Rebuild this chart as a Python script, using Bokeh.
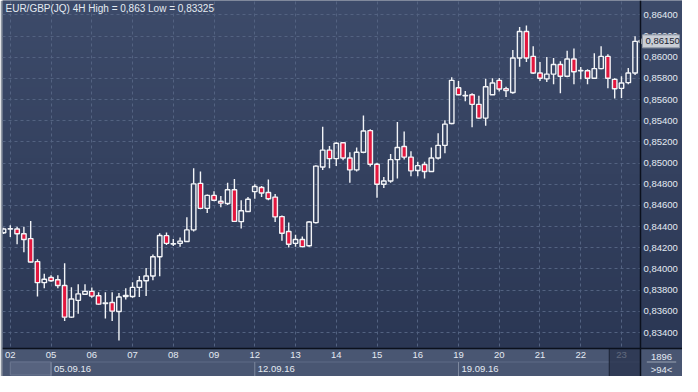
import numpy as np
from bokeh.plotting import figure
from bokeh.models import (FixedTicker, CustomJSTickFormatter, Label, BoxAnnotation,
                          Range1d, ColumnDataSource, Span)
from bokeh.core.properties import value
from bokeh.embed import file_html
from bokeh.resources import INLINE

# ---------------- data ----------------
title_text = "EUR/GBP(JQ) 4H High = 0,863 Low = 0,83325"

opens = [0.84342, 0.84378, 0.84378, 0.84333, 0.84287, 0.84070, 0.83871, 0.83919, 0.83898, 0.83844,
         0.83545, 0.83704, 0.83762, 0.83789, 0.83747, 0.83674, 0.83683, 0.83599, 0.83740, 0.83740,
         0.83826, 0.83889, 0.83934, 0.84115, 0.84315, 0.84235, 0.84242, 0.84260, 0.84369, 0.84809,
         0.84573, 0.84695, 0.84640, 0.84619, 0.84749, 0.84447, 0.84543, 0.84731, 0.84770, 0.84722,
         0.84679, 0.84495, 0.84354, 0.84242, 0.84278, 0.84220, 0.84438, 0.84963, 0.85123, 0.85042,
         0.85193, 0.85048, 0.84936, 0.85102, 0.85307, 0.84990, 0.84800, 0.84831, 0.85033, 0.85157,
         0.85057, 0.84930, 0.84987, 0.84921, 0.85048, 0.85168, 0.85374, 0.85712, 0.85637, 0.85646,
         0.85555, 0.85425, 0.85646, 0.85782, 0.85703, 0.85667, 0.85993, 0.86243, 0.86008, 0.85851,
         0.85796, 0.85841, 0.85932, 0.85821, 0.85984, 0.85872, 0.85872, 0.85802, 0.85893, 0.86008,
         0.85791, 0.85706, 0.85760, 0.85851]
highs = [0.84390, 0.84414, 0.84399, 0.84399, 0.84453, 0.84091, 0.83955, 0.83940, 0.83940, 0.84055,
         0.83828, 0.83855, 0.83855, 0.83826, 0.83780, 0.83780, 0.83780, 0.83774, 0.83819, 0.83874,
         0.83934, 0.84009, 0.84136, 0.84338, 0.84344, 0.84284, 0.84297, 0.84489, 0.84951, 0.84921,
         0.84704, 0.84734, 0.84689, 0.84815, 0.84851, 0.84649, 0.84679, 0.84800, 0.84785, 0.84845,
         0.84709, 0.84505, 0.84438, 0.84324, 0.84308, 0.84453, 0.84981, 0.85343, 0.85162, 0.85198,
         0.85198, 0.85102, 0.85148, 0.85449, 0.85320, 0.85003, 0.84870, 0.85087, 0.85389, 0.85298,
         0.85111, 0.85012, 0.85012, 0.85148, 0.85283, 0.85404, 0.85811, 0.85775, 0.85682, 0.85660,
         0.85637, 0.85796, 0.85802, 0.85805, 0.85721, 0.86068, 0.86285, 0.86300, 0.86104, 0.85956,
         0.86002, 0.85993, 0.85963, 0.86062, 0.86083, 0.85908, 0.85887, 0.86038, 0.86104, 0.86029,
         0.85802, 0.85821, 0.85899, 0.86198]
lows = [0.84330, 0.84302, 0.84233, 0.84157, 0.84061, 0.83740, 0.83819, 0.83880, 0.83819, 0.83509,
        0.83538, 0.83577, 0.83759, 0.83729, 0.83659, 0.83532, 0.83509, 0.83325, 0.83713, 0.83729,
        0.83735, 0.83744, 0.83894, 0.83931, 0.84227, 0.84218, 0.84211, 0.84255, 0.84354, 0.84564,
        0.84528, 0.84640, 0.84582, 0.84604, 0.84447, 0.84383, 0.84540, 0.84664, 0.84679, 0.84649,
        0.84444, 0.84266, 0.84202, 0.84211, 0.84206, 0.84211, 0.84429, 0.84936, 0.84951, 0.84972,
        0.85026, 0.84815, 0.84921, 0.85093, 0.84967, 0.84673, 0.84764, 0.84815, 0.84854, 0.85035,
        0.84876, 0.84876, 0.84854, 0.84915, 0.85035, 0.85093, 0.85368, 0.85640, 0.85585, 0.85338,
        0.85419, 0.85352, 0.85643, 0.85676, 0.85624, 0.85655, 0.85911, 0.85954, 0.85841, 0.85775,
        0.85766, 0.85745, 0.85660, 0.85811, 0.85745, 0.85791, 0.85745, 0.85800, 0.85887, 0.85706,
        0.85610, 0.85615, 0.85745, 0.85832]
closes = [0.84378, 0.84380, 0.84333, 0.84278, 0.84066, 0.83871, 0.83903, 0.83889, 0.83844, 0.83545,
          0.83717, 0.83765, 0.83789, 0.83744, 0.83668, 0.83680, 0.83602, 0.83735, 0.83749, 0.83826,
          0.83889, 0.83934, 0.84115, 0.84317, 0.84242, 0.84240, 0.84263, 0.84369, 0.84804, 0.84573,
          0.84695, 0.84649, 0.84622, 0.84749, 0.84450, 0.84550, 0.84659, 0.84779, 0.84718, 0.84664,
          0.84492, 0.84338, 0.84233, 0.84278, 0.84211, 0.84444, 0.84972, 0.85123, 0.85042, 0.85187,
          0.85048, 0.84936, 0.85102, 0.85304, 0.84990, 0.84800, 0.84831, 0.85033, 0.85148, 0.85057,
          0.84927, 0.84976, 0.84921, 0.85048, 0.85168, 0.85368, 0.85782, 0.85646, 0.85640, 0.85555,
          0.85425, 0.85721, 0.85757, 0.85700, 0.85685, 0.85993, 0.86243, 0.85993, 0.85851, 0.85802,
          0.85841, 0.85932, 0.85821, 0.85984, 0.85863, 0.85875, 0.85802, 0.85893, 0.86008, 0.85802,
          0.85703, 0.85757, 0.85851, 0.86150]

day_labels = ["02", "05", "06", "07", "08", "09", "12", "13", "14", "15", "16",
              "19", "20", "21", "22", "23"]
day_first_bar = [1, 7, 13, 19, 25, 31, 37, 43, 49, 55, 61, 67, 73, 79, 85, 91]
week_labels = ["05.09.16", "12.09.16", "19.09.16"]
week_first_bar = [7, 37, 67]
price_ticks = [0.834, 0.836, 0.838, 0.840, 0.842, 0.844, 0.846, 0.848, 0.850,
               0.852, 0.854, 0.856, 0.858, 0.860, 0.862, 0.864]
bars_total = "1896"
bars_visible = ">94<"

# ---------------- layout / styling ----------------
FONT = "Liberation Sans"
NAVY = "#33405e"
SLATE = "#495672"
TXT = "#e4eaf2"
RED = "#e3173e"
WHITE = "#f2f4f7"
BLACK = "#0b101c"

W, H = 682, 376
FRAME_W, FRAME_H = W - 2, H          # 2px left border
CAND_W, CAND_H = 638, 348             # candle area inside the frame (px)
x_lo, x_hi = -0.15, 93.8              # visible bar span of the candle area
y_lo, y_hi = 0.83249, 0.86536         # visible price span of the candle area
x_max = x_hi + (x_hi - x_lo) * (FRAME_W - CAND_W) / CAND_W   # right price panel
y_min = y_lo - (y_hi - y_lo) * (FRAME_H - CAND_H) / CAND_H   # bottom date bar
px = (x_hi - x_lo) / CAND_W           # bars per pixel
py = (y_hi - y_lo) / CAND_H           # price per pixel
row_div = y_min + 14.5 * py           # divider between day row and week row

p = figure(width=W, height=H, output_backend="svg", toolbar_location=None,
           x_range=Range1d(x_lo, x_max), y_range=Range1d(y_min, y_hi),
           y_axis_location="right",
           min_border_left=2, min_border_right=0, min_border_top=0, min_border_bottom=0)
p.title.visible = False
p.outline_line_color = None
p.background_fill_color = NAVY
p.border_fill_color = "#8d95a1"


def gradient(ny=128, bot=(0x2b, 0x37, 0x54), top=(0x3d, 0x4b, 0x6a)):
    t = np.linspace(0, 1, ny)[:, None]
    cols = (np.array(bot) * (1 - t) + np.array(top) * t).astype(np.uint8)
    img = np.zeros((ny, 1), dtype=np.uint32)
    v = img.view(np.uint8).reshape((ny, 1, 4))
    v[:, 0, :3] = cols
    v[:, 0, 3] = 255
    return img


# gradient behind the candles (below the grid)
bg = p.image_rgba(image=[gradient()], x=x_lo, y=y_lo, dw=x_hi - x_lo, dh=y_hi - y_lo)
bg.level = "image"

# grid
p.xgrid.ticker = FixedTicker(ticks=day_first_bar)
p.ygrid.ticker = FixedTicker(ticks=price_ticks)
for g in (p.xgrid[0], p.ygrid[0]):
    g.grid_line_color = "#536281"
    g.grid_line_dash = "3 3"
    g.grid_line_width = 1

# right price panel and bottom date bar (cover the grid there)
p.image_rgba(image=[gradient()], x=x_hi, y=y_lo, dw=x_max - x_hi, dh=y_hi - y_lo)
p.quad(left=[x_lo], right=[x_max], bottom=[y_min], top=[y_lo], fill_color=SLATE, line_color=None)
# partial first week box, week separators, row divider
p.quad(left=[day_first_bar[0]], right=[week_first_bar[0]], bottom=[y_min + 1.5 * py], top=[row_div],
       fill_color="#57637f", line_color="#6d7893", line_width=1)
p.segment(x0=[day_first_bar[0]], x1=[x_hi], y0=[row_div], y1=[row_div],
          line_color="#5f6b86", line_width=1)
p.segment(x0=week_first_bar, x1=week_first_bar, y0=[y_min] * len(week_first_bar),
          y1=[row_div] * len(week_first_bar), line_color="#7d889e", line_width=1)
p.text(x=week_first_bar, y=[(y_min + row_div) / 2] * len(week_first_bar), text=week_labels,
       x_offset=3, text_baseline="middle", text_align="left", text_color=TXT,
       text_font=value(FONT), text_font_size="9.5px")

# candles
o = np.array(opens); h = np.array(highs); l = np.array(lows); c = np.array(closes)
idx = np.arange(len(o))
bull = c >= o
src = ColumnDataSource(dict(
    x=idx, h=h, l=l, btop=np.maximum(o, c), bbot=np.minimum(o, c),
    fill=[NAVY if b else RED for b in bull],
    alpha=[0.0 if b else 1.0 for b in bull],
))
p.segment(x0="x", y0="btop", x1="x", y1="h", source=src, line_color=WHITE, line_width=1.4)
p.segment(x0="x", y0="l", x1="x", y1="bbot", source=src, line_color=WHITE, line_width=1.4)
p.vbar(x="x", width=0.66, top="btop", bottom="bbot", source=src,
       fill_color="fill", fill_alpha="alpha", line_color=WHITE, line_width=1.4)

# right price axis (labels drawn inward, over the price panel)
ya = p.yaxis[0]
ya.ticker = FixedTicker(ticks=price_ticks)
ya.formatter = CustomJSTickFormatter(code="return tick.toFixed(5).replace('.', ',');")
ya.major_tick_out = 0
ya.major_tick_in = 0
ya.minor_tick_out = 0
ya.minor_tick_in = 0
ya.axis_line_color = None
ya.major_label_standoff = -39
ya.major_label_text_color = TXT
ya.major_label_text_font = FONT
ya.major_label_text_font_size = "9.5px"

# bottom day axis (labels drawn inward, over the date bar)
xa = p.xaxis[0]
xa.ticker = FixedTicker(ticks=day_first_bar)
xa.major_label_overrides = {b: lab for b, lab in zip(day_first_bar, day_labels)}
xa.major_tick_out = 0
xa.major_tick_in = 0
xa.minor_tick_out = 0
xa.minor_tick_in = 0
xa.axis_line_color = None
xa.major_label_standoff = -25
xa.major_label_text_color = TXT
xa.major_label_text_font = FONT
xa.major_label_text_font_size = "9.5px"

# current (last) day highlight in the date bar
p.add_layout(BoxAnnotation(left=day_first_bar[-1] - 1.8, right=x_hi, bottom=y_min, top=y_lo,
                           fill_color="#27314a", fill_alpha=0.7, line_color="#1b2335",
                           line_alpha=1.0, line_width=1))

# frame separators
p.add_layout(Span(location=x_hi, dimension="height", line_color=BLACK, line_width=1.5))
p.add_layout(Span(location=y_lo, dimension="width", line_color=BLACK, line_width=1.5))

# title
p.add_layout(Label(x=x_lo, y=y_hi, x_offset=3, y_offset=-2, text=title_text,
                   text_baseline="top", text_align="left", text_color=TXT,
                   text_font=FONT, text_font_size="10px"))

# current price marker: box over the price panel, pointer, and text
last_price = closes[-1]
p.add_layout(BoxAnnotation(left=x_hi + 2 * px, right=x_max - 3 * px,
                           bottom=last_price - 6.5 * py, top=last_price + 6.5 * py,
                           fill_color="#c9ced6", fill_alpha=1.0, line_color="#8e96a3",
                           line_alpha=1.0, line_width=1, level="overlay"))
p.scatter(x=[x_hi + 1.2 * px], y=[last_price], marker="triangle", angle=np.pi / 2, size=7,
          fill_color="#c9ced6", line_color="#c9ced6")
p.add_layout(Label(x=x_hi, y=last_price, x_offset=5, text=f"{last_price:.5f}".replace(".", ","),
                   text_baseline="middle", text_align="left", text_color="#1c2331",
                   text_font=FONT, text_font_size="9.5px", level="overlay"))

# corner counters
xc = (x_hi + x_max) / 2
p.add_layout(Label(x=xc, y=y_lo, y_offset=-8, text=bars_total,
                   text_baseline="middle", text_align="center", text_color=TXT,
                   text_font=FONT, text_font_size="9.5px"))
p.add_layout(Label(x=xc, y=y_lo, y_offset=-21, text=bars_visible,
                   text_baseline="middle", text_align="center", text_color=TXT,
                   text_font=FONT, text_font_size="9.5px"))
p.segment(x0=[x_hi + 0.15 * (x_max - x_hi)], x1=[x_hi + 0.85 * (x_max - x_hi)],
          y0=[row_div], y1=[row_div], line_color="#9aa3b3", line_width=1)

open("out.html", "w").write(file_html(p, INLINE))
